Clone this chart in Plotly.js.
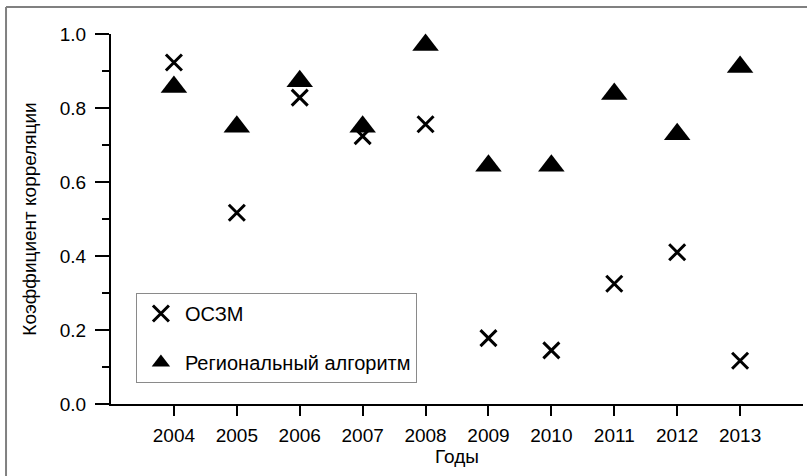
<!DOCTYPE html>
<html>
<head>
<meta charset="utf-8">
<script src="https://cdn.plot.ly/plotly-3.0.1.min.js"></script>
<style>html,body{margin:0;padding:0;background:#fff}#chart{width:807px;height:476px}</style>
</head>
<body>
<div id="chart"></div>
<script>
const years = [2004, 2005, 2006, 2007, 2008, 2009, 2010, 2011, 2012, 2013];
const oszm = [0.923, 0.517, 0.828, 0.724, 0.756, 0.178, 0.145, 0.325, 0.41, 0.117];
const regional = [0.857, 0.749, 0.872, 0.749, 0.97, 0.644, 0.644, 0.838, 0.729, 0.911];
const yTicks = [0, 0.2, 0.4, 0.6, 0.8, 1.0];
const yTickText = ['0.0', '0.2', '0.4', '0.6', '0.8', '1.0'];

const FONT = '"Liberation Sans", Arial, sans-serif';

const traces = [
  {
    x: years, y: oszm, name: 'ОСЗМ', type: 'scatter', mode: 'markers',
    legendgroup: 'a', cliponaxis: false,
    marker: {symbol: 'x-thin-open', size: 16, color: '#000', line: {width: 3, color: '#000'}}
  },
  {
    x: years, y: regional, name: 'Региональный алгоритм', type: 'scatter', mode: 'markers',
    legendgroup: 'b', cliponaxis: false,
    marker: {symbol: 'triangle-up', size: 23, color: '#000', line: {width: 0}}
  }
];

const layout = {
  width: 807, height: 476,
  margin: {l: 111, r: 4, t: 34, b: 72, pad: 0},
  paper_bgcolor: '#fff', plot_bgcolor: '#fff',
  font: {family: FONT, size: 19, color: '#000'},
  showlegend: true,
  legend: {
    x: 0.036, y: 0.3, xanchor: 'left', yanchor: 'top',
    bgcolor: '#fff', bordercolor: '#8a8a8a', borderwidth: 1,
    font: {family: FONT, size: 20, color: '#000'},
    traceorder: 'grouped', tracegroupgap: 20,
    itemsizing: 'trace', itemwidth: 38
  },
  xaxis: {
    range: [2003, 2014], showgrid: false, zeroline: false,
    tickmode: 'array', tickvals: years, ticktext: years.map(String),
    ticks: 'outside', ticklen: 10, tickwidth: 2, tickcolor: '#000',
    showline: true, linecolor: '#000', linewidth: 2,
    tickfont: {family: FONT, size: 19, color: '#000'},
    ticklabelstandoff: 3,
    title: {text: 'Годы', font: {family: FONT, size: 19, color: '#000'}, standoff: 2}
  },
  yaxis: {
    range: [0, 1], showgrid: false, zeroline: false,
    tickmode: 'array', tickvals: yTicks, ticktext: yTickText,
    ticks: 'outside', ticklen: 14, tickwidth: 2, tickcolor: '#000',
    showline: true, linecolor: '#000', linewidth: 2,
    tickfont: {family: FONT, size: 19, color: '#000'},
    ticklabelstandoff: 5,
    minor: {dtick: 0.1, ticks: 'outside', ticklen: 7, tickwidth: 2, tickcolor: '#000', showgrid: false},
    title: {text: 'Коэффициент корреляции', font: {family: FONT, size: 19, color: '#000'}, standoff: 18}
  },
  shapes: [
    {type: 'line', xref: 'paper', yref: 'paper', x0: -0.1517, x1: -0.1517, y0: -0.25, y1: 1.073,
     line: {color: '#808080', width: 2}},
    {type: 'line', xref: 'paper', yref: 'paper', x0: -0.1517, x1: 1.1, y0: 1.073, y1: 1.073,
     line: {color: '#808080', width: 2}}
  ]
};

Plotly.newPlot('chart', traces, layout, {displayModeBar: false, staticPlot: true});
</script>
</body>
</html>
